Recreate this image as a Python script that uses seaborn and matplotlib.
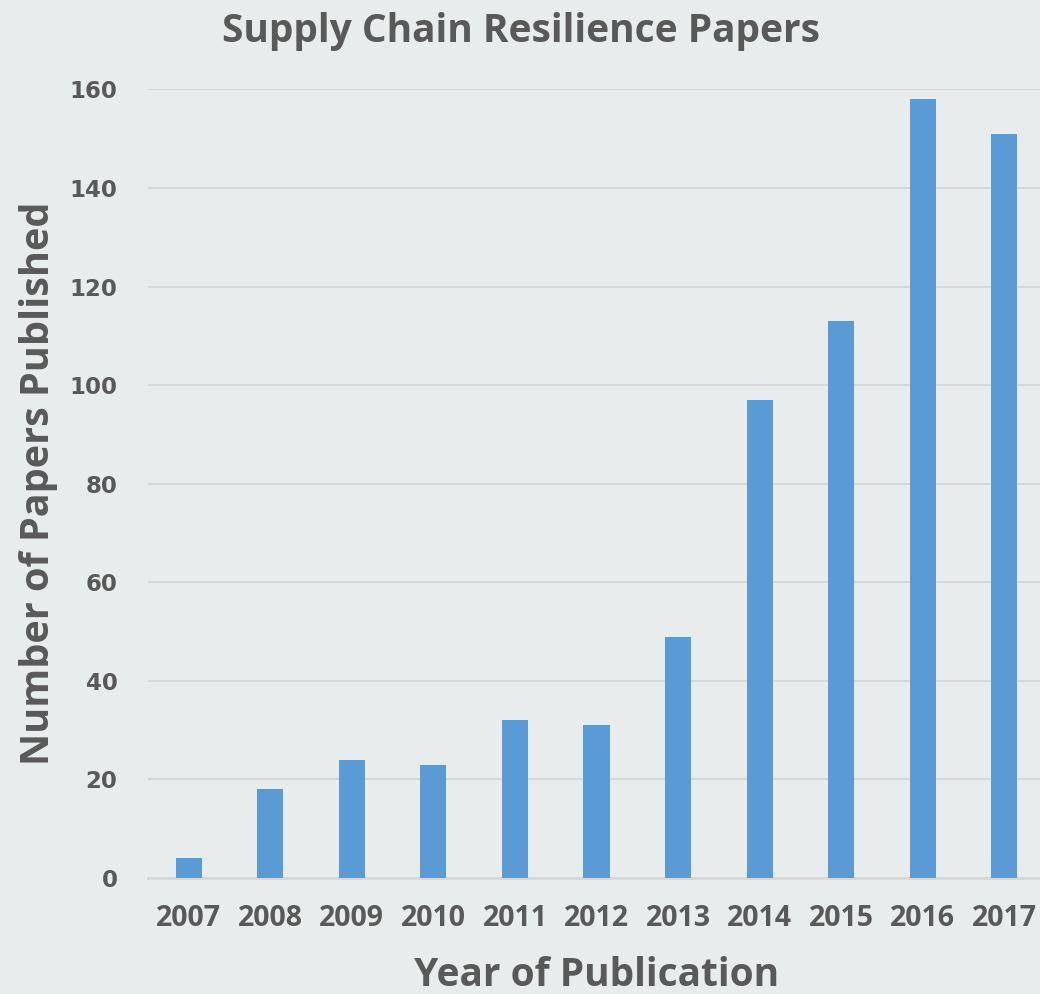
import matplotlib
matplotlib.use("Agg")
import matplotlib.pyplot as plt
import seaborn as sns
import pandas as pd

# -----------------------------
# DATA
# -----------------------------
years = ["2007", "2008", "2009", "2010", "2011", "2012",
         "2013", "2014", "2015", "2016", "2017"]
papers = [4, 18, 24, 23, 32, 31, 49, 97, 113, 158, 151]
yticks = [0, 20, 40, 60, 80, 100, 120, 140, 160]

df = pd.DataFrame({"Year": years, "Papers": papers})

# -----------------------------
# STYLE
# -----------------------------
sns.set_style("white")
plt.rcParams["font.family"] = ["Open Sans", "DejaVu Sans"]

bg = "#e9ecec"
bar_color = "#5b9bd5"
text_color = "#595959"
grid_color = "#d6d8d8"

fig = plt.figure(figsize=(10.4, 9.94), dpi=100, facecolor=bg)
ax = fig.add_axes([0.1423, 0.1167, 0.8625, 0.7938])
ax.set_facecolor(bg)

sns.barplot(data=df, x="Year", y="Papers", color=bar_color,
            width=0.32, saturation=1, linewidth=0, ax=ax, zorder=3)

ax.set_xlim(-0.5, 10.5)
ax.set_ylim(0, 160.1)
ax.set_yticks(yticks)

ax.yaxis.grid(True, color=grid_color, linewidth=1.5, zorder=0)
ax.set_axisbelow(True)
for side in ["top", "right", "left"]:
    ax.spines[side].set_visible(False)
ax.spines["bottom"].set_color(grid_color)
ax.spines["bottom"].set_linewidth(2)

ax.tick_params(axis="both", length=0)
ax.tick_params(axis="y", pad=22)
ax.tick_params(axis="x", pad=19)

for lab in ax.get_yticklabels():
    lab.set_fontfamily("DejaVu Sans")
    lab.set_fontweight("bold")
    lab.set_fontsize(16.5)
    lab.set_color(text_color)
for lab in ax.get_xticklabels():
    lab.set_fontweight("bold")
    lab.set_fontsize(20.5)
    lab.set_color(text_color)

ax.set_xlabel("Year of Publication", fontsize=28, fontweight="bold",
              color=text_color, labelpad=16)
ax.set_ylabel("Number of Papers Published", fontsize=28.5, fontweight="bold",
              color=text_color, labelpad=8)

fig.text(0.501, 0.968, "Supply Chain Resilience Papers", ha="center",
         va="center", fontsize=28, fontweight="bold", color=text_color)

fig.savefig("out.png", dpi=100, facecolor=bg)
